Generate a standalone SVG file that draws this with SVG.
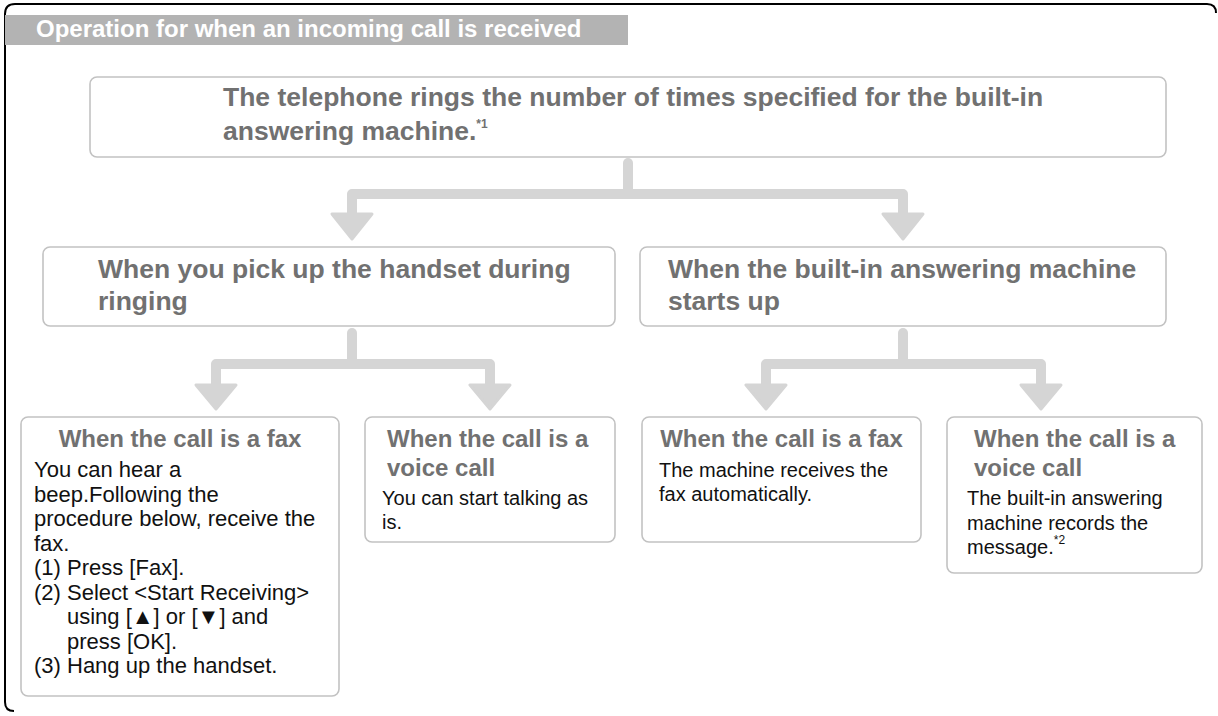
<svg xmlns="http://www.w3.org/2000/svg" width="1218" height="716" viewBox="0 0 1218 716">
<style>
.box{fill:#fff;stroke:#c2c2c2;stroke-width:1.6}
.h{font-family:"Liberation Sans",Arial,sans-serif;font-weight:bold;fill:#717171}
.t{font-size:26.5px}
.s{font-size:24px}
.b{font-family:"Liberation Sans",Arial,sans-serif;font-size:20px;fill:#111}
.bl{font-size:22px}
.sup{font-size:12px}
.con{fill:none;stroke:#d5d5d5;stroke-width:10;stroke-linejoin:round;stroke-linecap:round}
.ah{fill:#d5d5d5;stroke:#d5d5d5;stroke-width:3;stroke-linejoin:round}
</style>
<rect width="1218" height="716" fill="#fff"/>
<g id="frame">
<path d="M14,711 Q5,711 5,702 V14 Q5,4 15,4 H1207 Q1216,4 1216,13" fill="none" stroke="#000" stroke-width="2"/>
<rect x="5" y="15" width="623" height="30" fill="#b3b3b3"/>
<text x="36" y="37" font-family="Liberation Sans, Arial, sans-serif" font-weight="bold" font-size="24" fill="#fff">Operation for when an incoming call is received</text>
</g>
<g id="connectors">
<path class="con" d="M628,163 V194"/>
<path class="con" d="M352,214 V194 H903 V214"/>
<polygon class="ah" points="332,214 372,214 352,239"/>
<polygon class="ah" points="883,214 923,214 903,239"/>
<path class="con" d="M352,333 V364"/>
<path class="con" d="M216,385 V364 H490 V385"/>
<polygon class="ah" points="196,385 236,385 216,409"/>
<polygon class="ah" points="470,385 510,385 490,409"/>
<path class="con" d="M903,333 V364"/>
<path class="con" d="M766,385 V364 H1041 V385"/>
<polygon class="ah" points="746,385 786,385 766,409"/>
<polygon class="ah" points="1021,385 1061,385 1041,409"/>
</g>
<g id="n-top">
<rect class="box" x="90" y="77" width="1076" height="80" rx="7"/>
<text class="h t" x="223" y="106">The telephone rings the number of times specified for the built-in</text>
<text class="h t" x="223" y="140">answering machine.<tspan class="sup" dy="-12">*1</tspan></text>
</g>
<g id="n-pickup">
<rect class="box" x="43" y="247" width="572" height="79" rx="7"/>
<text class="h t" x="98" y="278">When you pick up the handset during</text>
<text class="h t" x="98" y="310">ringing</text>
</g>
<g id="n-answering">
<rect class="box" x="640" y="247" width="526" height="79" rx="7"/>
<text class="h t" x="668" y="278">When the built-in answering machine</text>
<text class="h t" x="668" y="310">starts up</text>
</g>
<g id="n-fax1">
<rect class="box" x="21" y="417" width="318" height="279" rx="7"/>
<text class="h s" x="180" y="447" text-anchor="middle">When the call is a fax</text>
<text class="b bl" x="34" y="477">You can hear a</text>
<text class="b bl" x="34" y="501.5">beep.Following the</text>
<text class="b bl" x="34" y="526">procedure below, receive the</text>
<text class="b bl" x="34" y="550.5">fax.</text>
<text class="b bl" x="34" y="575">(1) Press [Fax].</text>
<text class="b bl" x="34" y="599.5">(2) Select &lt;Start Receiving&gt;</text>
<text class="b bl" x="67" y="624">using [▲] or [▼] and</text>
<text class="b bl" x="67" y="648.5">press [OK].</text>
<text class="b bl" x="34" y="673">(3) Hang up the handset.</text>
</g>
<g id="n-voice1">
<rect class="box" x="365" y="417" width="250" height="125" rx="7"/>
<text class="h s" x="387" y="447">When the call is a</text>
<text class="h s" x="387" y="476">voice call</text>
<text class="b" x="382" y="505">You can start talking as</text>
<text class="b" x="382" y="529">is.</text>
</g>
<g id="n-fax2">
<rect class="box" x="642" y="417" width="279" height="125" rx="7"/>
<text class="h s" x="781.5" y="447" text-anchor="middle">When the call is a fax</text>
<text class="b" x="659" y="477">The machine receives the</text>
<text class="b" x="659" y="501">fax automatically.</text>
</g>
<g id="n-voice2">
<rect class="box" x="947" y="417" width="255" height="156" rx="7"/>
<text class="h s" x="974" y="447">When the call is a</text>
<text class="h s" x="974" y="476">voice call</text>
<text class="b" x="967" y="505">The built-in answering</text>
<text class="b" x="967" y="530">machine records the</text>
<text class="b" x="967" y="554">message.<tspan class="sup" dy="-10">*2</tspan></text>
</g>
</svg>
